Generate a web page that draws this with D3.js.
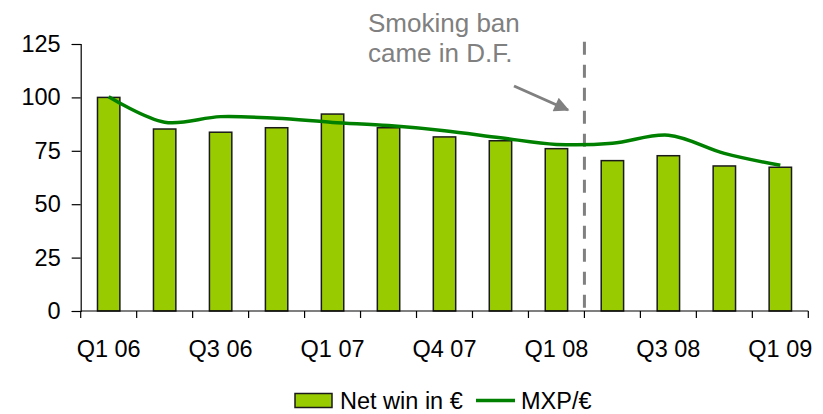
<!DOCTYPE html>
<html>
<head>
<meta charset="utf-8">
<script src="https://cdn.jsdelivr.net/npm/d3@7"></script>
<style>
  body { margin: 0; background: #fff; }
  svg { display: block; font-family: "Liberation Sans", Arial, sans-serif; }
</style>
</head>
<body>
<div id="chart"></div>
<script>
// quarters, Q1 06 .. Q1 09
const quarters = ["Q1 06","Q2 06","Q3 06","Q4 06","Q1 07","Q2 07","Q3 07","Q4 07","Q1 08","Q2 08","Q3 08","Q4 08","Q1 09"];
const netWin = [100, 85.2, 83.7, 85.8, 92.2, 85.8, 81.5, 79.7, 76.0, 70.4, 72.7, 67.9, 67.3];
const mxpEur = [100.3, 88.4, 91.0, 90.2, 88.3, 86.8, 84.4, 81.1, 78.0, 78.5, 82.3, 73.8, 68.2];
// labels shown under every second quarter (as printed on the original)
const tickLabels = ["Q1 06","Q3 06","Q1 07","Q4 07","Q1 08","Q3 08","Q1 09"];
const yTicks = [0, 25, 50, 75, 100, 125];

const width = 823,
      height = 414;

const svg = d3.select("#chart")
              .append("svg")
              .attr("width", width)
              .attr("height", height);

const x = d3.scaleBand().domain(quarters).range([80.7, 808.3]).padding(0);
const y = d3.scaleLinear().domain([0, 125]).range([311, 44]);
const bw = x.bandwidth();

// y axis
const yAxis = svg.append("g")
                 .attr("transform", `translate(${x.range()[0]},0)`)
                 .call(d3.axisLeft(y).tickValues(yTicks).tickSize(9).tickPadding(11));
yAxis.selectAll("text").attr("font-size", 23.5).attr("fill", "#000").attr("font-family", null);
yAxis.selectAll("line, path").attr("stroke", "#000").attr("stroke-width", 1.2);

// bars
svg.selectAll("rect.bar")
   .data(netWin)
   .join("rect")
   .attr("class", "bar")
   .attr("x", (d, i) => x(quarters[i]) + bw * 0.3)
   .attr("width", bw * 0.4)
   .attr("y", d => y(d))
   .attr("height", d => y(0) - y(d))
   .attr("fill", "#99cc00")
   .attr("stroke", "#1a1a1a")
   .attr("stroke-width", 1.5);

// x axis
const xg = svg.append("g");
xg.append("line")
  .attr("x1", x.range()[0]).attr("x2", x.range()[1])
  .attr("y1", y(0)).attr("y2", y(0))
  .attr("stroke", "#000").attr("stroke-width", 1.2);
xg.selectAll("line.tick")
  .data(d3.range(quarters.length + 1))
  .join("line")
  .attr("class", "tick")
  .attr("x1", i => x.range()[0] + i * x.step())
  .attr("x2", i => x.range()[0] + i * x.step())
  .attr("y1", y(0)).attr("y2", y(0) + 7)
  .attr("stroke", "#000").attr("stroke-width", 1.2);
xg.selectAll("text")
  .data(tickLabels)
  .join("text")
  .attr("x", (d, i) => x(quarters[i * 2]) + bw / 2)
  .attr("y", y(0) + 46)
  .attr("text-anchor", "middle")
  .attr("font-size", 23.5)
  .text(d => d);

// dashed marker: smoking ban between Q1 08 and Q2 08
const banX = x("Q2 08");
svg.append("line")
   .attr("x1", banX).attr("x2", banX)
   .attr("y1", y(126)).attr("y2", y(0))
   .attr("stroke", "#808080")
   .attr("stroke-width", 3)
   .attr("stroke-dasharray", "13,10");

// MXP/€ line
const line = d3.line()
               .x((d, i) => x(quarters[i]) + bw / 2)
               .y(d => y(d))
               .curve(d3.curveCatmullRom.alpha(0.5));
svg.append("path")
   .datum(mxpEur)
   .attr("d", line)
   .attr("fill", "none")
   .attr("stroke", "#008000")
   .attr("stroke-width", 3.5);

// annotation
const note = svg.append("text")
                .attr("fill", "#808080")
                .attr("font-size", 26);
note.append("tspan").attr("x", 368).attr("y", 32).text("Smoking ban");
note.append("tspan").attr("x", 368).attr("y", 62).text("came in D.F.");

svg.append("defs")
   .append("marker")
   .attr("id", "head")
   .attr("viewBox", "0 0 10 10")
   .attr("refX", 9).attr("refY", 5)
   .attr("markerUnits", "userSpaceOnUse")
   .attr("markerWidth", 18).attr("markerHeight", 15)
   .attr("orient", "auto")
   .append("path")
   .attr("d", "M0,0L10,5L0,10Z")
   .attr("fill", "#808080");

svg.append("line")
   .attr("x1", 514).attr("y1", 86)
   .attr("x2", 568).attr("y2", 110)
   .attr("stroke", "#808080")
   .attr("stroke-width", 3)
   .attr("marker-end", "url(#head)");

// legend
const legend = svg.append("g").attr("font-size", 23.5);
legend.append("rect")
      .attr("x", 295).attr("y", 393.5)
      .attr("width", 37).attr("height", 14)
      .attr("fill", "#99cc00")
      .attr("stroke", "#1a1a1a").attr("stroke-width", 1.5);
legend.append("text").attr("x", 340).attr("y", 409).text("Net win in €");
legend.append("line")
      .attr("x1", 476).attr("x2", 515)
      .attr("y1", 400.5).attr("y2", 400.5)
      .attr("stroke", "#008000").attr("stroke-width", 3.5);
legend.append("text").attr("x", 521).attr("y", 409).text("MXP/€");
</script>
</body>
</html>
